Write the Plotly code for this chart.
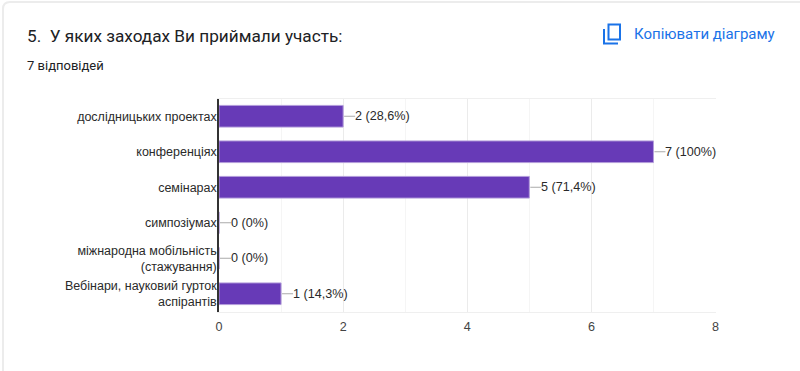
import plotly.graph_objects as go

categories = ["дослідницьких проектах", "конференціях", "семінарах", "симпозіумах",
              "міжнародна мобільність<br>(стажування)", "Вебінари, науковий гурток<br>аспірантів"]
values = [2, 7, 5, 0, 0, 1]
value_labels = ["2 (28,6%)", "7 (100%)", "5 (71,4%)", "0 (0%)", "0 (0%)", "1 (14,3%)"]
x_ticks = [0, 2, 4, 6, 8]

W, H = 800, 371
FONT = "Liberation Sans, Arial, sans-serif"

def px(x): return x / W
def py(y): return 1 - y / H

def path(points):
    return " ".join(f"{c} {px(x):.5f},{py(y):.5f}" for c, x, y in points)

fig = go.Figure(go.Bar(
    x=values, y=categories, orientation="h",
    marker=dict(color="#673ab7", line=dict(color="#b39ddb", width=1)),
    hoverinfo="skip", cliponaxis=False,
))

for v, c, t in zip(values, categories, value_labels):
    fig.add_annotation(x=v, y=c, xref="x", yref="y", text=t, showarrow=True,
                       arrowhead=0, arrowwidth=1, arrowcolor="#aaaaaa", standoff=1,
                       ax=12, ay=0, axref="pixel", ayref="pixel", xanchor="left",
                       borderpad=0, borderwidth=0,
                       font=dict(family=FONT, size=12.6, color="#2a2a2a"))

# card outline
fig.add_shape(type="path", xref="paper", yref="paper", layer="below",
              line=dict(color="#ececec", width=2),
              path="M %.5f,%.5f L %.5f,%.5f Q %.5f,%.5f %.5f,%.5f L %.5f,%.5f" % (
                  px(3), py(371), px(3), py(9), px(3), py(2), px(10), py(2), px(800), py(2)))

# copy icon
BLUE = "#1a73e8"
fig.add_shape(type="path", xref="paper", yref="paper", line=dict(color=BLUE, width=2),
              path=path([("M", 604, 29), ("L", 604, 43.5), ("L", 618, 43.5)]))
fig.add_shape(type="rect", xref="paper", yref="paper", line=dict(color=BLUE, width=2),
              x0=px(608.5), x1=px(620), y0=py(24.5), y1=py(39.5))

fig.add_annotation(xref="paper", yref="paper", x=px(26), y=py(36), text="5.  У яких заходах Ви приймали участь:",
                   showarrow=False, xanchor="left", yanchor="middle", borderpad=0,
                   font=dict(family="Roboto, sans-serif", size=17.2, color="#202124"))
fig.add_annotation(xref="paper", yref="paper", x=px(26), y=py(65), text="7 відповідей",
                   showarrow=False, xanchor="left", yanchor="middle", borderpad=0,
                   font=dict(family="Roboto, sans-serif", size=13, color="#202124"))
fig.add_annotation(xref="paper", yref="paper", x=px(632.5), y=py(34), text="Копіювати діаграму",
                   showarrow=False, xanchor="left", yanchor="middle", borderpad=0,
                   font=dict(family="Roboto, sans-serif", size=15, weight=400, color=BLUE))

fig.update_layout(
    template="none",
    width=W, height=H, margin=dict(l=0, r=0, t=0, b=0, pad=0, autoexpand=False),
    paper_bgcolor="white", plot_bgcolor="white", showlegend=False, bargap=0.39,
    font=dict(family=FONT, size=12.6, color="#222222"),
    xaxis=dict(domain=[px(219), px(715.5)], range=[0, 8], tickvals=x_ticks, ticks="", automargin=False,
               showgrid=True, gridcolor="#ebebeb", gridwidth=1, zeroline=False,
               showline=True, linecolor="#efefef", linewidth=1, mirror=True, ticklabelstandoff=3,
               tickfont=dict(family=FONT, size=12.6, color="#444444"),
               minor=dict(dtick=1, showgrid=True, gridcolor="#f5f5f5", gridwidth=1)),
    yaxis=dict(domain=[py(311.5), py(98.5)], range=[5.5, -0.5], type="category", automargin=False,
               categoryorder="array", categoryarray=categories, ticks="", ticklen=0, ticklabelstandoff=-2,
               showgrid=False, zeroline=False, showline=True, linecolor="#333333", linewidth=1.5,
               tickfont=dict(family=FONT, size=12.5, color="#2a2a2a")),
)

fig.write_html("out.html", post_script="document.body.style.margin='0';",
               config=dict(displayModeBar=False))
